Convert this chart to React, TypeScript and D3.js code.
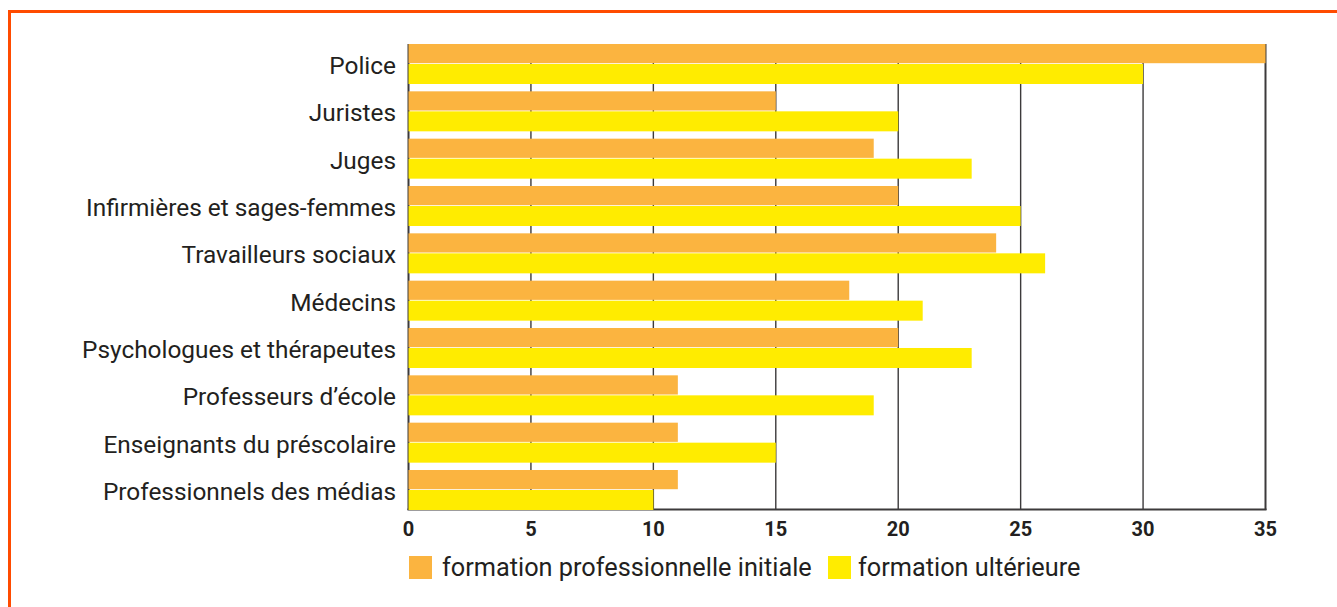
import React from "react";
import * as d3 from "d3";

const categories = [
  "Police",
  "Juristes",
  "Juges",
  "Infirmières et sages-femmes",
  "Travailleurs sociaux",
  "Médecins",
  "Psychologues et thérapeutes",
  "Professeurs d’école",
  "Enseignants du préscolaire",
  "Professionnels des médias",
];
const initialValues = [35, 15, 19, 20, 24, 18, 20, 11, 11, 11];
const laterValues = [30, 20, 23, 25, 26, 21, 23, 19, 15, 10];
const xTicks = [0, 5, 10, 15, 20, 25, 30, 35];
const seriesNames = ["formation professionnelle initiale", "formation ultérieure"];
const seriesColors = ["#FBB440", "#FFEC00"];

const W = 1337;
const H = 607;
const FONT = "Roboto, 'Noto Sans', sans-serif";
const TEXT = "#231F20";
const GRID = "#3C3A3B";

export default function App() {
  const x = d3.scaleLinear().domain([0, 35]).range([408.5, 1265.5]);
  const y = d3.scaleBand<string>().domain(categories).range([44, 510]).paddingInner(0.155).paddingOuter(0);
  const sub = d3.scaleBand<number>().domain([0, 1]).range([0, y.bandwidth()]).padding(0);
  const series = [initialValues, laterValues];
  const top = 44;
  const bottom = 510;

  return (
    <svg
      width={W}
      height={H}
      style={{ position: "absolute", left: 0, top: 0, display: "block" }}
      fontFamily={FONT}
    >
      <rect x={0} y={0} width={W} height={H} fill="#fff" />
      {/* orange frame */}
      <line x1={9.5} x2={9.5} y1={10} y2={H} stroke="#FF4B00" strokeWidth={3} />
      <line x1={8} x2={W} y1={11.5} y2={11.5} stroke="#FF4B00" strokeWidth={3} />

      {/* grid lines */}
      {xTicks.map((t) => (
        <line
          key={"g" + t}
          x1={x(t)}
          x2={x(t)}
          y1={top}
          y2={bottom}
          stroke={GRID}
          strokeWidth={t === 35 || t === 0 ? 2 : 1.4}
        />
      ))}
      <line x1={x(0) - 1} x2={x(35) + 1} y1={bottom - 0.5} y2={bottom - 0.5} stroke={GRID} strokeWidth={2} />

      {/* bars */}
      {categories.map((c, i) => (
        <g key={c} transform={`translate(0,${y(c)})`}>
          {series.map((vals, s) => (
            <rect
              key={s}
              x={x(0)}
              y={sub(s)}
              width={x(vals[i]) - x(0)}
              height={sub.bandwidth() - (s === 0 ? 0.8 : 0)}
              fill={seriesColors[s]}
            />
          ))}
          <text
            x={396}
            y={y.bandwidth() / 2 + 10}
            textAnchor="end"
            fontSize={24.4}
            fill={TEXT}
          >
            {c}
          </text>
        </g>
      ))}

      {/* x tick labels */}
      {xTicks.map((t) => (
        <text
          key={"t" + t}
          x={x(t)}
          y={536}
          textAnchor="middle"
          fontSize={20}
          fontWeight="bold"
          fill={TEXT}
        >
          {t}
        </text>
      ))}

      {/* legend */}
      <g>
        <rect x={409} y={556} width={23} height={23} fill={seriesColors[0]} />
        <text x={442} y={576} fontSize={25.3} fill={TEXT}>
          {seriesNames[0]}
        </text>
        <rect x={828} y={556} width={23} height={23} fill={seriesColors[1]} />
        <text x={858} y={576} fontSize={25.3} fill={TEXT}>
          {seriesNames[1]}
        </text>
      </g>
    </svg>
  );
}
